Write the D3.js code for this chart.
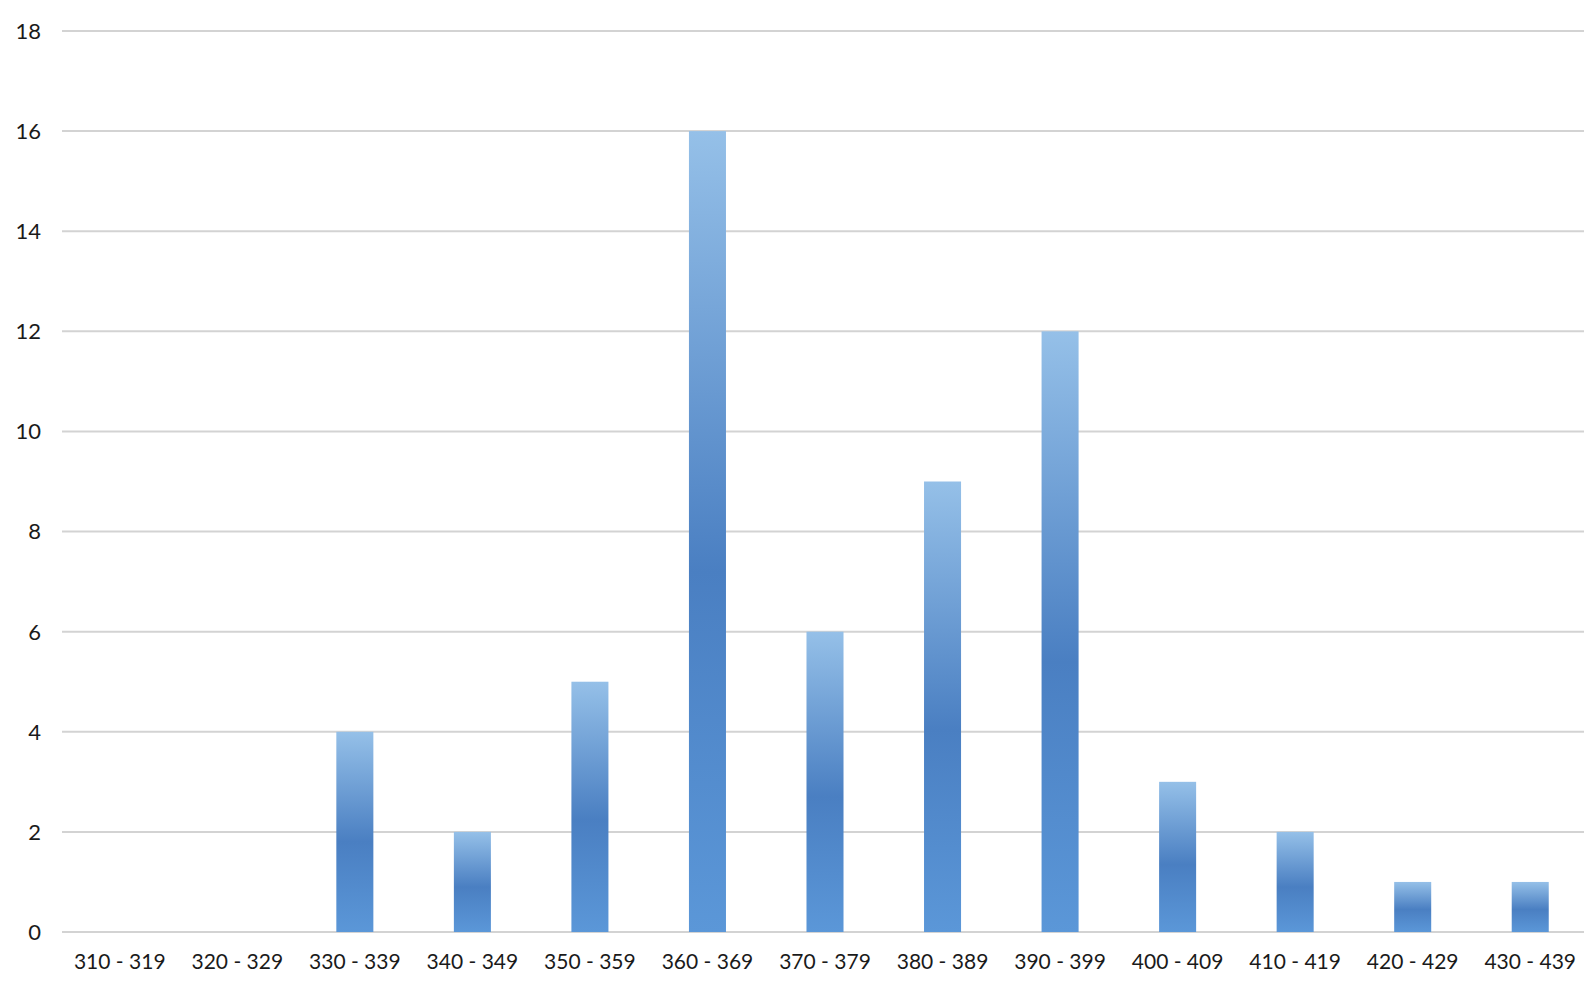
<!DOCTYPE html>
<html>
<head>
<meta charset="utf-8">
<script src="https://cdn.jsdelivr.net/npm/d3@7"></script>
<style>
  html, body { margin: 0; padding: 0; background: #fff; overflow: hidden; }
  svg { display: block; font-family: Lato, "Noto Sans", sans-serif; }
</style>
</head>
<body>
<div id="chart"></div>
<script>
// Data
var bins = ['310 - 319', '320 - 329', '330 - 339', '340 - 349', '350 - 359', '360 - 369',
            '370 - 379', '380 - 389', '390 - 399', '400 - 409', '410 - 419', '420 - 429', '430 - 439'];
var counts = [0, 0, 4, 2, 5, 16, 6, 9, 12, 3, 2, 1, 1];
var yTicks = [0, 2, 4, 6, 8, 10, 12, 14, 16, 18];

var width = 1584;
var height = 989;
var plotLeft = 61;
var plotRight = 1589;   // the plot area runs a little past the window edge
var plotTop = 31;
var plotBottom = 932;

var svg = d3.select('#chart').append('svg')
    .attr('width', width)
    .attr('height', height);

// bar gradient, light at top, darker just below the middle
var grad = svg.append('defs').append('linearGradient')
    .attr('id', 'barFill')
    .attr('x1', 0).attr('y1', 0).attr('x2', 0).attr('y2', 1);
grad.append('stop').attr('offset', '0%').attr('stop-color', '#95c0e8');
grad.append('stop').attr('offset', '55%').attr('stop-color', '#4a7fc2');
grad.append('stop').attr('offset', '100%').attr('stop-color', '#5b97d8');

var x = d3.scaleBand()
    .domain(bins)
    .range([plotLeft, plotRight])
    .paddingInner(0.685)
    .paddingOuter(0.3425);

var y = d3.scaleLinear()
    .domain([0, 18])
    .range([plotBottom, plotTop]);

// gridlines
svg.append('g')
    .selectAll('line')
    .data(yTicks)
    .enter()
    .append('line')
    .attr('x1', 62)
    .attr('x2', plotRight)
    .attr('y1', function (d) { return y(d); })
    .attr('y2', function (d) { return y(d); })
    .attr('stroke', '#d3d3d3')
    .attr('stroke-width', 2);

// y labels
svg.append('g')
    .selectAll('text')
    .data(yTicks)
    .enter()
    .append('text')
    .attr('x', 41)
    .attr('y', function (d) { return y(d); })
    .attr('dy', '0.36em')
    .attr('text-anchor', 'end')
    .attr('font-size', 22)
    .attr('fill', '#1a1a1a')
    .text(function (d) { return d; });

// bars
var data = bins.map(function (b, i) { return { bin: b, count: counts[i] }; });
svg.append('g')
    .selectAll('rect')
    .data(data.filter(function (d) { return d.count > 0; }))
    .enter()
    .append('rect')
    .attr('x', function (d) { return x(d.bin); })
    .attr('width', x.bandwidth())
    .attr('y', function (d) { return y(d.count); })
    .attr('height', function (d) { return y(0) - y(d.count); })
    .attr('fill', 'url(#barFill)');

// x labels
svg.append('g')
    .selectAll('text')
    .data(bins)
    .enter()
    .append('text')
    .attr('x', function (d) { return x(d) + x.bandwidth() / 2; })
    .attr('y', 969)
    .attr('text-anchor', 'middle')
    .attr('font-size', 21)
    .attr('fill', '#1a1a1a')
    .text(function (d) { return d; });
</script>
</body>
</html>
